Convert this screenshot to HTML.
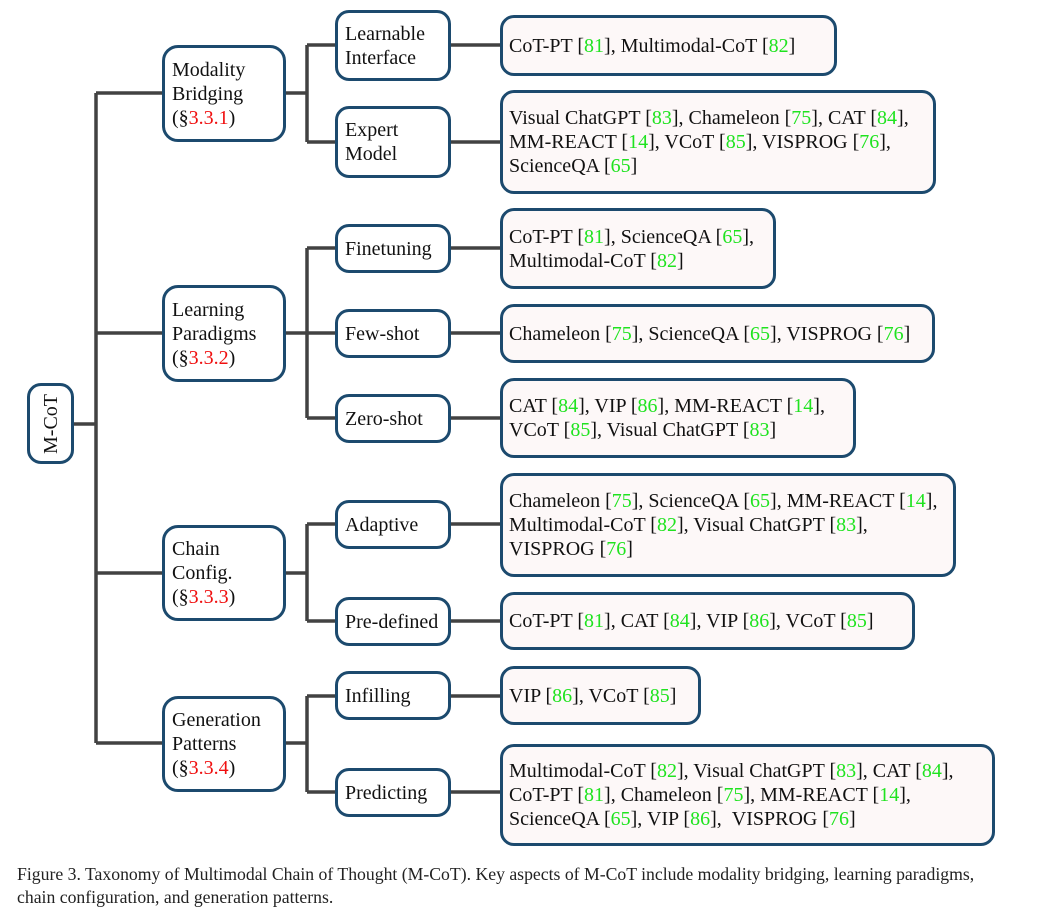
<!DOCTYPE html>
<html><head><meta charset="utf-8"><style>
body{margin:0;width:1039px;height:918px;background:#fff;position:relative;overflow:hidden;font-family:"Liberation Serif",serif;color:#111}
.b{position:absolute;box-sizing:border-box;border:3px solid #1c4a6e;border-radius:14px;background:#fff;display:flex;align-items:center;font-size:20px;line-height:24px}
.b>div{display:block}
.l2{padding-left:7px}
.l1{padding-left:7px;border-radius:16px}
.lf{background:#fdf8f8;padding-left:6px;white-space:nowrap}
.g{color:#1fe31f}
.r{color:#f01010}
svg{position:absolute;left:0;top:0}
.cap{position:absolute;left:17px;top:863px;font-size:17.7px;line-height:23px;color:#222;white-space:nowrap}
</style></head><body>
<svg width="1039" height="918"><g stroke="#424242" stroke-width="3.5" fill="none">
<path d="M74 424H96M96 93V743M96 93H162M96 333H162M96 573H162M96 743H162"/>
<path d="M286 93H307M307 45V142M307 45H335M307 142H335"/>
<path d="M286 333H307M307 248V418M307 248H335M307 333H335M307 418H335"/>
<path d="M286 573H307M307 524V621M307 524H335M307 621H335"/>
<path d="M286 743H307M307 696V792M307 696H335M307 792H335"/>
<path d="M451 45H500M451 142H500M451 248H500M451 333H500M451 418H500M451 524H500M451 621H500M451 696H500M451 792H500"/>
</g></svg>
<div class="b" style="left:27px;top:383px;width:47px;height:81px;justify-content:center"><div style="transform:rotate(-90deg);white-space:nowrap">M-CoT</div></div>
<div class="b l1" style="left:162px;top:45px;width:124px;height:97px"><div>Modality<br>Bridging<br>(§<span class="r">3.3.1</span>)</div></div>
<div class="b l1" style="left:162px;top:285px;width:124px;height:97px"><div>Learning<br>Paradigms<br>(§<span class="r">3.3.2</span>)</div></div>
<div class="b l1" style="left:162px;top:525px;width:124px;height:96px"><div>Chain<br>Config.<br>(§<span class="r">3.3.3</span>)</div></div>
<div class="b l1" style="left:162px;top:696px;width:124px;height:96px"><div>Generation<br>Patterns<br>(§<span class="r">3.3.4</span>)</div></div>
<div class="b l2" style="left:335px;top:10px;width:116px;height:71px"><div>Learnable<br>Interface</div></div>
<div class="b l2" style="left:335px;top:106px;width:116px;height:72px"><div>Expert<br>Model</div></div>
<div class="b l2" style="left:335px;top:224px;width:116px;height:49px"><div>Finetuning</div></div>
<div class="b l2" style="left:335px;top:309px;width:116px;height:49px"><div>Few-shot</div></div>
<div class="b l2" style="left:335px;top:394px;width:116px;height:49px"><div>Zero-shot</div></div>
<div class="b l2" style="left:335px;top:500px;width:116px;height:49px"><div>Adaptive</div></div>
<div class="b l2" style="left:335px;top:597px;width:116px;height:49px"><div>Pre-defined</div></div>
<div class="b l2" style="left:335px;top:671px;width:116px;height:49px"><div>Infilling</div></div>
<div class="b l2" style="left:335px;top:768px;width:116px;height:49px"><div>Predicting</div></div>
<div class="b lf" style="left:500px;top:15px;width:337px;height:61px"><div>CoT-PT [<span class="g">81</span>], Multimodal-CoT [<span class="g">82</span>]</div></div>
<div class="b lf" style="left:500px;top:90px;width:436px;height:104px"><div>Visual ChatGPT [<span class="g">83</span>], Chameleon [<span class="g">75</span>], CAT [<span class="g">84</span>],<br>MM-REACT [<span class="g">14</span>], VCoT [<span class="g">85</span>], VISPROG [<span class="g">76</span>],<br>ScienceQA [<span class="g">65</span>]</div></div>
<div class="b lf" style="left:500px;top:208px;width:276px;height:81px"><div>CoT-PT [<span class="g">81</span>], ScienceQA [<span class="g">65</span>],<br>Multimodal-CoT [<span class="g">82</span>]</div></div>
<div class="b lf" style="left:500px;top:304px;width:435px;height:59px"><div>Chameleon [<span class="g">75</span>], ScienceQA [<span class="g">65</span>], VISPROG [<span class="g">76</span>]</div></div>
<div class="b lf" style="left:500px;top:378px;width:356px;height:80px"><div>CAT [<span class="g">84</span>], VIP [<span class="g">86</span>], MM-REACT [<span class="g">14</span>],<br>VCoT [<span class="g">85</span>], Visual ChatGPT [<span class="g">83</span>]</div></div>
<div class="b lf" style="left:500px;top:473px;width:456px;height:104px"><div>Chameleon [<span class="g">75</span>], ScienceQA [<span class="g">65</span>], MM-REACT [<span class="g">14</span>],<br>Multimodal-CoT [<span class="g">82</span>], Visual ChatGPT [<span class="g">83</span>],<br>VISPROG [<span class="g">76</span>]</div></div>
<div class="b lf" style="left:500px;top:592px;width:415px;height:58px"><div>CoT-PT [<span class="g">81</span>], CAT [<span class="g">84</span>], VIP [<span class="g">86</span>], VCoT [<span class="g">85</span>]</div></div>
<div class="b lf" style="left:500px;top:666px;width:201px;height:59px"><div>VIP [<span class="g">86</span>], VCoT [<span class="g">85</span>]</div></div>
<div class="b lf" style="left:500px;top:744px;width:495px;height:102px"><div>Multimodal-CoT [<span class="g">82</span>], Visual ChatGPT [<span class="g">83</span>], CAT [<span class="g">84</span>],<br>CoT-PT [<span class="g">81</span>], Chameleon [<span class="g">75</span>], MM-REACT [<span class="g">14</span>],<br>ScienceQA [<span class="g">65</span>], VIP [<span class="g">86</span>], &nbsp;VISPROG [<span class="g">76</span>]</div></div>
<div class="cap">Figure 3. Taxonomy of Multimodal Chain of Thought (M-CoT). Key aspects of M-CoT include modality bridging, learning paradigms,<br>chain configuration, and generation patterns.</div>
</body></html>
